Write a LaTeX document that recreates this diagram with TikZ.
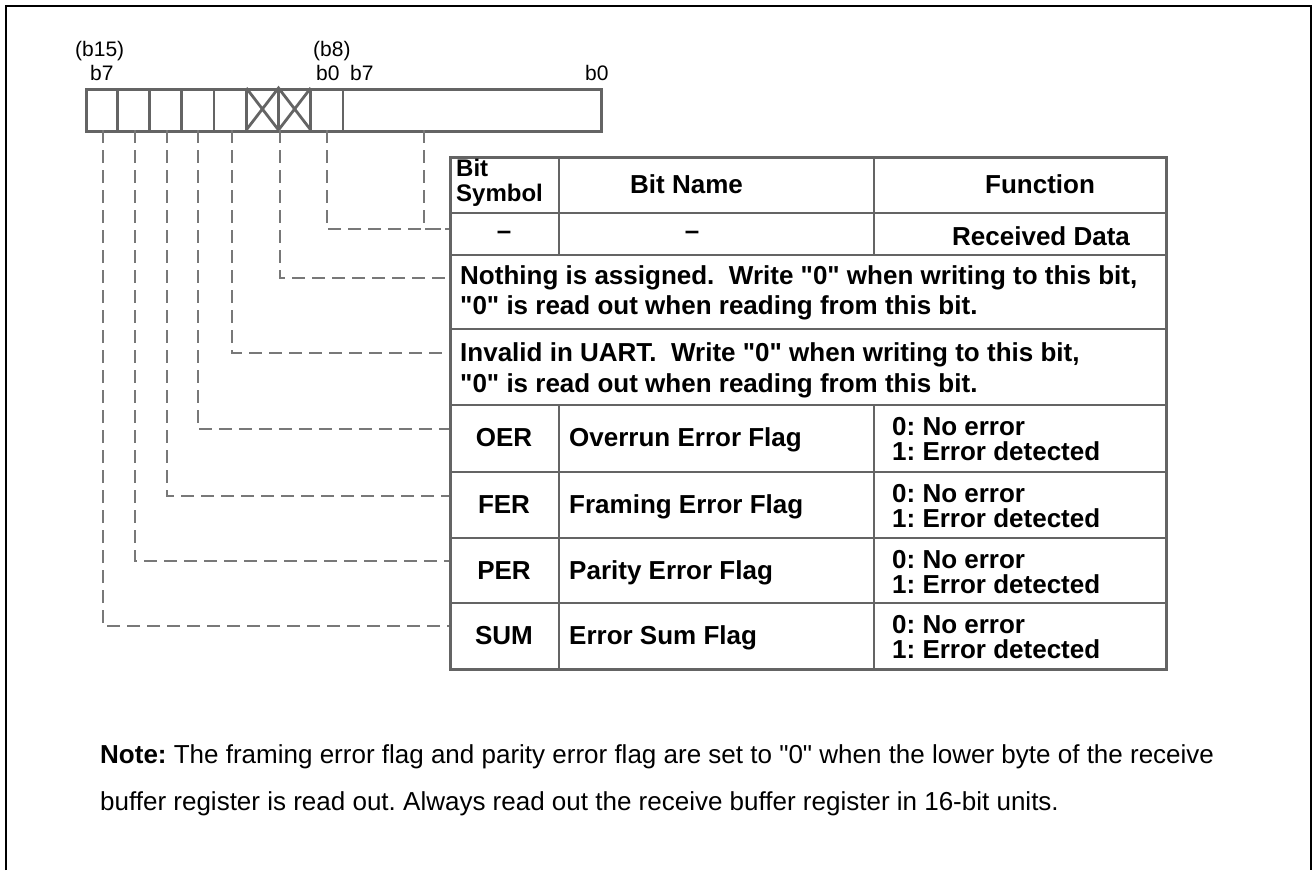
\documentclass[tikz,border=0pt]{standalone}
\usepackage{fontspec}
\setmainfont{Liberation Sans}
\frenchspacing
\usetikzlibrary{positioning}
\definecolor{rulegray}{RGB}{100,100,100}
\definecolor{leadgray}{RGB}{120,120,120}
\newcommand{\qz}{\textquotedbl 0\textquotedbl}

\begin{document}
\begin{tikzpicture}[x=1pt, y=-1pt,
        frame/.style={draw=black, line width=2.4pt},
        grid/.style={draw=rulegray, line width=2.8pt},
        leader/.style={draw=leadgray, line width=2.6pt, dash pattern=on 13pt off 7pt},
        bitlbl/.style={inner sep=0pt, anchor=base west, font=\fontsize{21}{23}\selectfont},
        cellc/.style={inner sep=0pt, anchor=base, font=\fontsize{26}{26}\selectfont\bfseries},
        celll/.style={inner sep=0pt, anchor=base west, font=\fontsize{26}{26}\selectfont\bfseries},
        cellm/.style={inner sep=0pt, anchor=north west, align=left},
        notetxt/.style={inner sep=0pt, anchor=base west, font=\fontsize{26}{30}\selectfont}
    ]
    \useasboundingbox (0,0) rectangle (1313,870);
    \draw[frame] (6,870) -- (6,6) -- (1311,6) -- (1311,870);

    \node[bitlbl] (hi15) at (75,56) {(b15)};
    \node[bitlbl] (hi7) at (90,80) {b7};
    \node[bitlbl] (hi8) at (313,56) {(b8)};
    \node[bitlbl] (hi0) at (316,80) {b0};
    \node[bitlbl] (lo7) at (350,80) {b7};
    \node[bitlbl] (lo0) at (585,80) {b0};

    \node[grid, anchor=north west, inner sep=0pt, minimum width=515pt, minimum height=42pt] (reg) at (85,88) {};
    \foreach \i in {1,...,8}
        \draw[grid] ({85+32.25*\i},88) -- ({85+32.25*\i},130);
    \draw[grid] (246.25,88) -- (278.5,130) -- (310.75,88)
        (246.25,130) -- (278.5,88) -- (310.75,130);

    \foreach \n/\x in {sum/103, per/135, fer/167, oer/198, inv/232, nas/280, hib/327, low/424}
        \coordinate (bit\n) at (\x,130);
    \foreach \n/\y in {rd/229, nas/278, inv/353, oer/429, fer/496, per/561, sum/626}
        \coordinate (in\n) at (449,\y);

    \draw[leader] (bitlow) |- (inrd);
    \draw[leader] (bithib) |- (inrd);
    \draw[leader] (bitnas) |- (innas);
    \draw[leader] (bitinv) |- (ininv);
    \draw[leader] (bitoer) |- (inoer);
    \draw[leader] (bitfer) |- (infer);
    \draw[leader] (bitper) |- (inper);
    \draw[leader] (bitsum) |- (insum);

    \node[grid, anchor=north west, inner sep=0pt, minimum width=716pt, minimum height=512pt] (tbl) at (449,156) {};
    \foreach \y in {213,255,329,405,472,538,603}
        \draw[grid] (449,\y) -- (1165,\y);
    \foreach \x in {559,874}
        \draw[grid] (\x,156) -- (\x,255) (\x,405) -- (\x,668);

    \node[cellm, font=\fontsize{24}{24.5}\selectfont\bfseries] (hsym) at (456,159) {Bit\\Symbol};
    \node[celll] (hname) at (630,193) {Bit Name};
    \node[cellc] (hfunc) at (1040,193) {Function};

    \node[cellc] (rdsym) at (504,239) {\textendash};
    \node[cellc] (rdname) at (692,239) {\textendash};
    \node[celll] (rdfunc) at (952,245) {Received Data};

    \node[cellm, font=\fontsize{26}{30}\selectfont\bfseries] (nassign) at (460,265)
        {Nothing is assigned.\ \ Write \qz{} when writing to this bit,\\\qz{} is read out when reading from this bit.};
    \node[cellm, font=\fontsize{26}{31}\selectfont\bfseries] (invuart) at (460,342)
        {Invalid in UART.\ \ Write \qz{} when writing to this bit,\\\qz{} is read out when reading from this bit.};

    \foreach \s/\nm/\t in {OER/Overrun Error Flag/405, FER/Framing Error Flag/472, PER/Parity Error Flag/538, SUM/Error Sum Flag/603} {
        \node[cellc] (sym\s) at (504,{\t+41}) {\s};
        \node[celll] (name\s) at (569,{\t+41}) {\nm};
        \node[cellm, font=\fontsize{26}{25}\selectfont\bfseries] (func\s) at (892,{\t+12}) {0: No error\\1: Error detected};
    }

    \node[notetxt] (note1) at (100,763) {\textbf{Note:} The framing error flag and parity error flag are set to \qz{} when the lower byte of the receive};
    \node[notetxt] (note2) at (100,810) {buffer register is read out. Always read out the receive buffer register in 16-bit units.};
\end{tikzpicture}
\end{document}
